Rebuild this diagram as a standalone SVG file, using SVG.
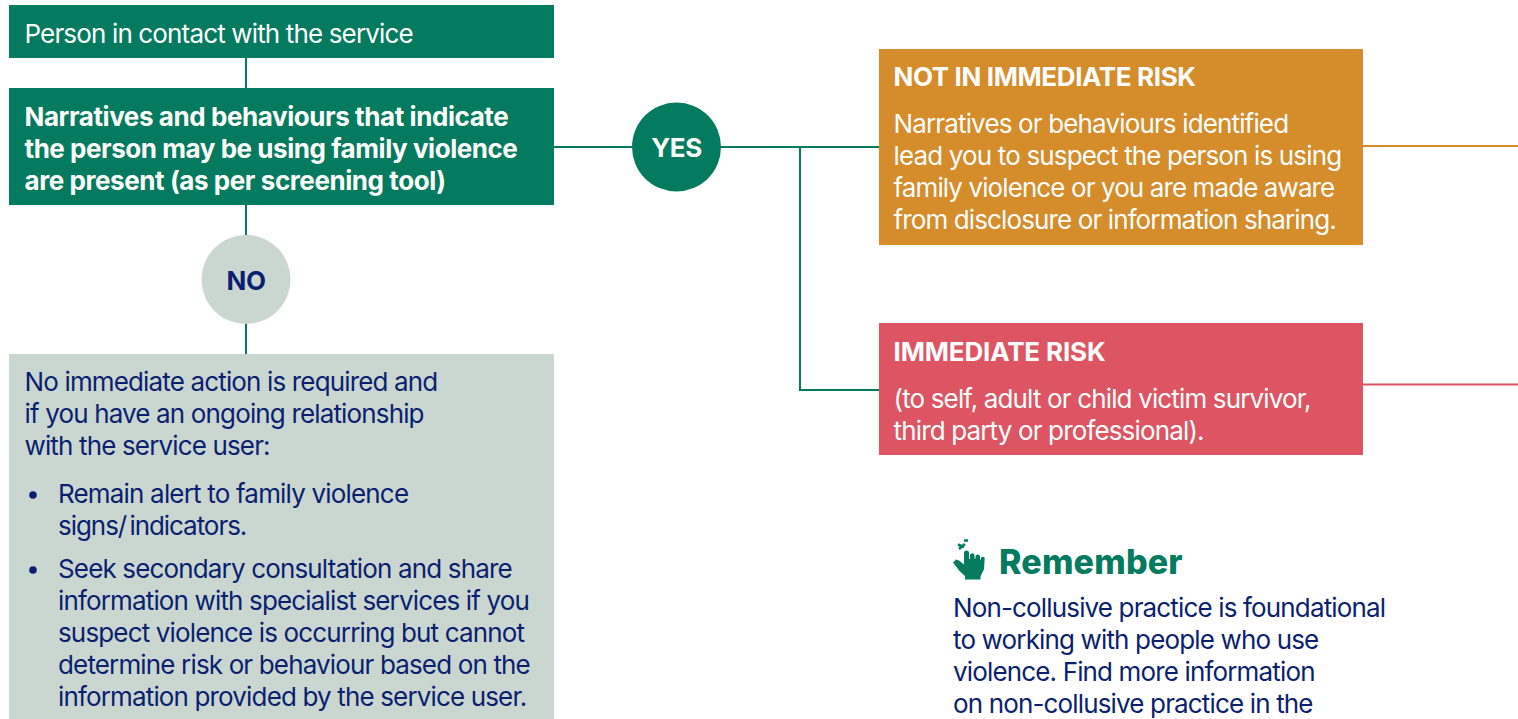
<svg xmlns="http://www.w3.org/2000/svg" width="1518" height="719" viewBox="0 0 1518 719">
<style>
text{font-family:Inter,"Liberation Sans",sans-serif;font-size:26px;letter-spacing:-0.85px}
.w{fill:#fff}.n{fill:#0b1f70}
text.b{font-weight:700;letter-spacing:-0.42px}
.g{fill:#047a5e}
.c{fill:none;stroke:#047a5e;stroke-width:2}
</style>
<rect width="1518" height="719" fill="#fff"/>
<g id="connectors">
<path class="c" d="M246 58V88M246 205V354M554 147H879M800 147V390H879"/>
<path fill="none" stroke="#d58c2a" stroke-width="2" d="M1363 146H1518"/>
<path fill="none" stroke="#dd5563" stroke-width="2" d="M1363 384.500H1518"/>
</g>
<g id="start"><rect class="g" x="9" y="5" width="545" height="53"/><text class="w" x="24.500" y="43">Person in contact with the service</text></g>
<g id="narratives"><rect class="g" x="9" y="88" width="545" height="117"/>
<text class="w b" x="24.500" y="126">Narratives and behaviours that indicate</text>
<text class="w b" x="24.500" y="158" style="letter-spacing:-0.45px">the person may be using family violence</text>
<text class="w b" x="24.500" y="190">are present (as per screening tool)</text></g>
<g id="yes"><circle class="g" cx="676.500" cy="147" r="44.500"/><text class="w b" x="676.500" y="156.500" text-anchor="middle">YES</text></g>
<g id="no"><circle cx="246" cy="279.500" r="44.500" fill="#cad7d1"/><text class="n b" x="246" y="290" text-anchor="middle">NO</text></g>
<g id="no-action"><rect x="9" y="354" width="545" height="365" fill="#cad7d1"/>
<text class="n" x="24.500" y="391">No immediate action is required and</text>
<text class="n" x="24.500" y="423">if you have an ongoing relationship</text>
<text class="n" x="24.500" y="455">with the service user:</text>
<circle class="n" cx="33" cy="495" r="3.800"/>
<text class="n" x="58" y="503" style="letter-spacing:-0.82px">Remain alert to family violence</text>
<text class="n" x="58" y="535" style="letter-spacing:-1.05px;word-spacing:-3px">signs/ indicators.</text>
<circle class="n" cx="33" cy="570" r="3.800"/>
<text class="n" x="58" y="578">Seek secondary consultation and share</text>
<text class="n" x="58" y="610">information with specialist services if you</text>
<text class="n" x="58" y="642">suspect violence is occurring but cannot</text>
<text class="n" x="58" y="674">determine risk or behaviour based on the</text>
<text class="n" x="58" y="706">information provided by the service user.</text></g>
<g id="not-immediate"><rect x="879" y="49" width="484" height="196" fill="#d58c2a"/>
<text class="w b" x="893.500" y="86" style="letter-spacing:-0.37px">NOT IN IMMEDIATE RISK</text>
<text class="w" x="893.500" y="133">Narratives or behaviours identified</text>
<text class="w" x="893.500" y="165">lead you to suspect the person is using</text>
<text class="w" x="893.500" y="197" style="letter-spacing:-0.9px">family violence or you are made aware</text>
<text class="w" x="893.500" y="229" style="letter-spacing:-0.88px">from disclosure or information sharing.</text></g>
<g id="immediate"><rect x="879" y="323" width="484" height="132" fill="#dd5563"/>
<text class="w b" x="893.500" y="361" style="letter-spacing:-0.15px">IMMEDIATE RISK</text>
<text class="w" x="893.500" y="408">(to self, adult or child victim survivor,</text>
<text class="w" x="893.500" y="440">third party or professional).</text></g>
<g id="remember">
<path class="g" d="M953 562.500l3-3 3 1 5 4V553a2.500 2.500 0 0 1 5 0v6l1-.5v-3.500a2.300 2.300 0 0 1 4.500 0v3.500l1 .2v-2.500a2.300 2.300 0 0 1 4.500 0v3l1 .5v-1.500a1.900 1.900 0 0 1 3.700 0l-.7 11-3.500 7v3.300h-15.500v-3.500l-5.500-5z"/>
<path fill="none" stroke="#047a5e" stroke-width="2.600" d="M958 544.500l6 2.500M959 549l6-5M964 540.500h4"/>
<text class="g" x="999" y="573.600" style="font-size:34px;font-weight:800;letter-spacing:0.17px">Remember</text>
<text class="n" x="953" y="617">Non-collusive practice is foundational</text>
<text class="n" x="953" y="649">to working with people who use</text>
<text class="n" x="953" y="681">violence. Find more information</text>
<text class="n" x="953" y="713">on non-collusive practice in the</text>
</g>
</svg>
